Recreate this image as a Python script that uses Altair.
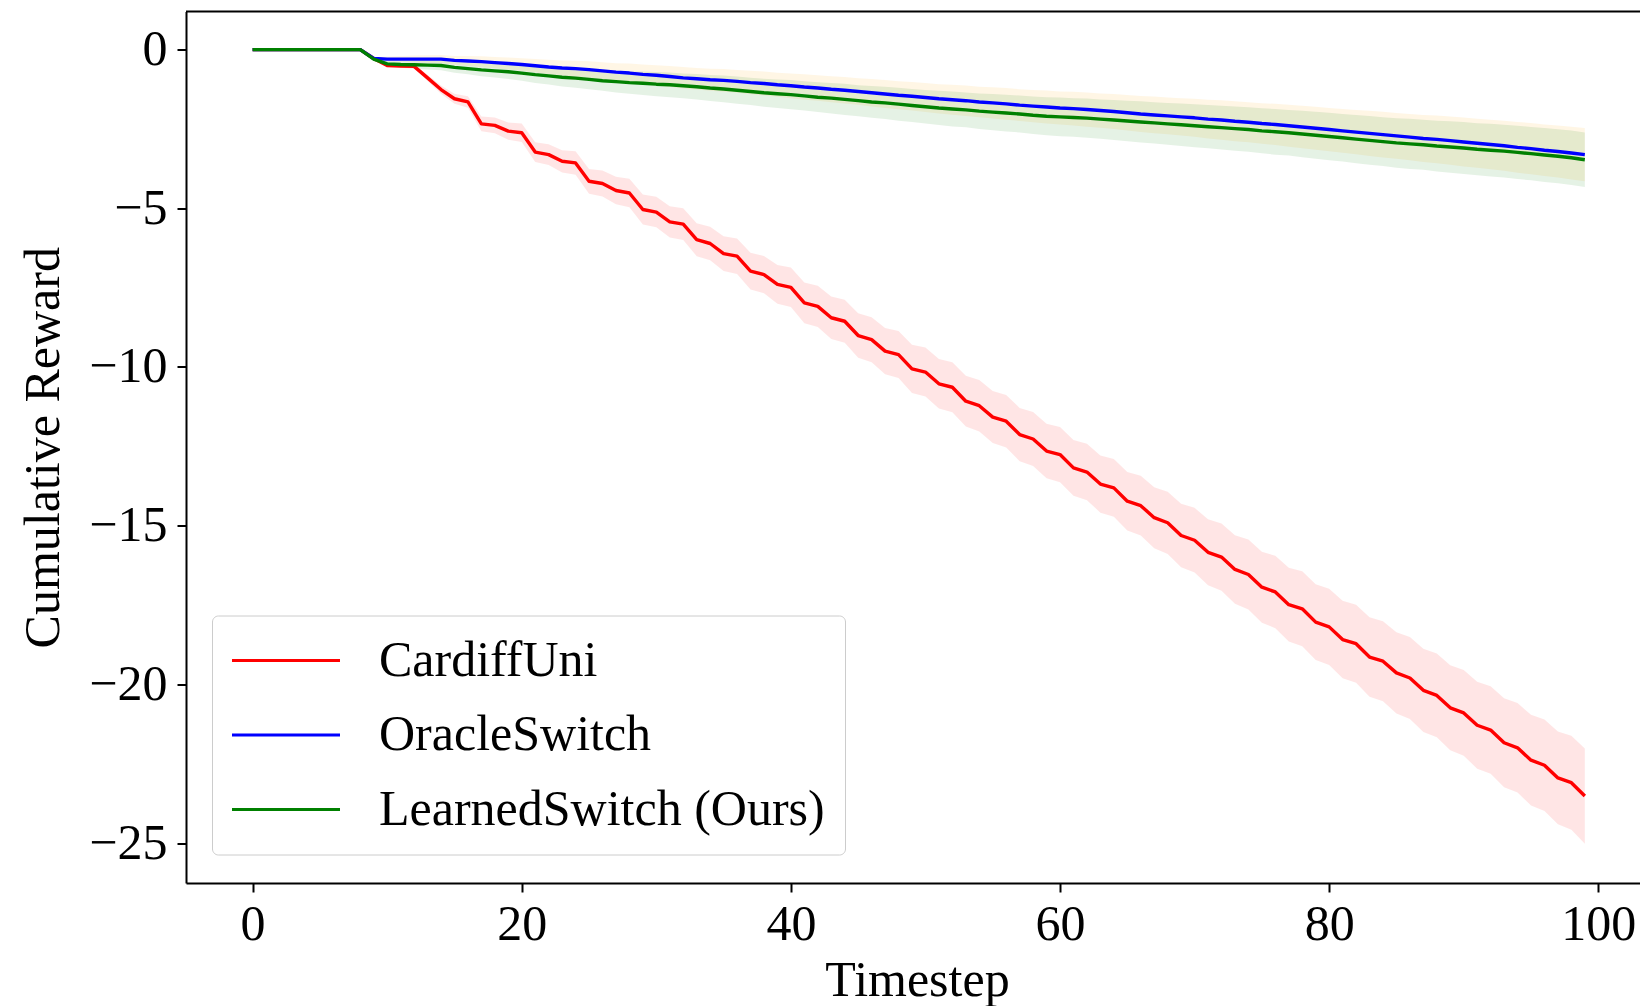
import altair as alt
import pandas as pd

steps = list(range(100))
series_names = ["CardiffUni", "OracleSwitch", "LearnedSwitch (Ours)"]

cardiff_mean = [
    0, 0, 0, 0, 0, 0, 0, 0, 0, -0.28,
    -0.50, -0.52, -0.53, -0.89, -1.26, -1.55, -1.65, -2.34, -2.39, -2.57,
    -2.62, -3.23, -3.31, -3.52, -3.57, -4.15, -4.22, -4.44, -4.52, -5.04,
    -5.12, -5.43, -5.50, -5.99, -6.11, -6.43, -6.51, -6.98, -7.09, -7.40,
    -7.49, -7.98, -8.09, -8.45, -8.56, -9.01, -9.14, -9.50, -9.61, -10.06,
    -10.16, -10.53, -10.64, -11.08, -11.22, -11.58, -11.71, -12.13, -12.27, -12.65,
    -12.76, -13.18, -13.31, -13.69, -13.81, -14.23, -14.37, -14.75, -14.91, -15.31,
    -15.46, -15.84, -15.99, -16.38, -16.54, -16.94, -17.09, -17.49, -17.62, -18.04,
    -18.19, -18.59, -18.72, -19.14, -19.27, -19.64, -19.80, -20.19, -20.35, -20.74,
    -20.90, -21.29, -21.44, -21.84, -22.00, -22.39, -22.55, -22.95, -23.10, -23.52,
]
cardiff_std = [
    0, 0, 0, 0, 0, 0, 0, 0, 0, 0.02,
    0.03, 0.04, 0.05, 0.10, 0.13, 0.16, 0.18, 0.23, 0.25, 0.27,
    0.29, 0.31, 0.33, 0.35, 0.37, 0.39, 0.41, 0.43, 0.45, 0.47,
    0.48, 0.49, 0.50, 0.52, 0.53, 0.55, 0.56, 0.58, 0.59, 0.61,
    0.62, 0.64, 0.65, 0.67, 0.68, 0.70, 0.71, 0.73, 0.74, 0.76,
    0.77, 0.78, 0.79, 0.80, 0.81, 0.82, 0.83, 0.84, 0.85, 0.86,
    0.87, 0.88, 0.89, 0.90, 0.91, 0.92, 0.94, 0.96, 0.98, 1.00,
    1.02, 1.04, 1.06, 1.08, 1.10, 1.12, 1.14, 1.16, 1.18, 1.19,
    1.20, 1.22, 1.23, 1.25, 1.26, 1.28, 1.29, 1.31, 1.32, 1.34,
    1.35, 1.37, 1.38, 1.40, 1.41, 1.43, 1.44, 1.46, 1.48, 1.50,
]
oracle_mean = [
    0, 0, 0, 0, 0, 0, 0, 0, 0, -0.28,
    -0.30, -0.30, -0.30, -0.30, -0.30, -0.34, -0.36, -0.38, -0.41, -0.44,
    -0.47, -0.51, -0.55, -0.58, -0.60, -0.63, -0.67, -0.71, -0.74, -0.78,
    -0.81, -0.85, -0.89, -0.92, -0.95, -0.97, -1.00, -1.04, -1.07, -1.11,
    -1.14, -1.18, -1.21, -1.25, -1.28, -1.32, -1.36, -1.40, -1.44, -1.47,
    -1.51, -1.55, -1.58, -1.61, -1.65, -1.68, -1.71, -1.75, -1.78, -1.81,
    -1.84, -1.86, -1.89, -1.92, -1.95, -1.99, -2.03, -2.06, -2.09, -2.12,
    -2.15, -2.19, -2.22, -2.26, -2.29, -2.33, -2.36, -2.40, -2.44, -2.48,
    -2.52, -2.56, -2.60, -2.64, -2.68, -2.72, -2.76, -2.80, -2.83, -2.87,
    -2.91, -2.95, -2.99, -3.03, -3.08, -3.12, -3.17, -3.21, -3.26, -3.31,
]
oracle_std = [
    0, 0, 0, 0, 0, 0, 0, 0, 0, 0.04,
    0.08, 0.10, 0.11, 0.12, 0.13, 0.14, 0.16, 0.17, 0.18, 0.19,
    0.20, 0.21, 0.23, 0.24, 0.25, 0.26, 0.27, 0.28, 0.30, 0.31,
    0.32, 0.33, 0.34, 0.34, 0.35, 0.36, 0.36, 0.37, 0.38, 0.38,
    0.39, 0.40, 0.40, 0.41, 0.42, 0.42, 0.43, 0.44, 0.44, 0.45,
    0.46, 0.46, 0.47, 0.48, 0.48, 0.49, 0.50, 0.50, 0.51, 0.52,
    0.52, 0.53, 0.54, 0.54, 0.55, 0.56, 0.57, 0.58, 0.58, 0.59,
    0.60, 0.61, 0.62, 0.63, 0.63, 0.64, 0.65, 0.66, 0.67, 0.68,
    0.68, 0.69, 0.70, 0.71, 0.72, 0.72, 0.73, 0.74, 0.75, 0.76,
    0.77, 0.77, 0.78, 0.79, 0.80, 0.81, 0.81, 0.82, 0.83, 0.84,
]
learned_mean = [
    0, 0, 0, 0, 0, 0, 0, 0, 0, -0.30,
    -0.45, -0.47, -0.48, -0.49, -0.50, -0.56, -0.60, -0.64, -0.67, -0.70,
    -0.74, -0.79, -0.83, -0.87, -0.90, -0.94, -0.98, -1.01, -1.04, -1.06,
    -1.09, -1.11, -1.14, -1.17, -1.21, -1.24, -1.28, -1.32, -1.36, -1.39,
    -1.42, -1.46, -1.50, -1.53, -1.57, -1.61, -1.65, -1.68, -1.72, -1.76,
    -1.80, -1.84, -1.87, -1.90, -1.94, -1.97, -2.00, -2.03, -2.07, -2.10,
    -2.12, -2.14, -2.16, -2.19, -2.22, -2.25, -2.28, -2.31, -2.34, -2.37,
    -2.40, -2.43, -2.46, -2.49, -2.52, -2.56, -2.59, -2.62, -2.66, -2.70,
    -2.74, -2.78, -2.82, -2.86, -2.90, -2.94, -2.97, -3.00, -3.04, -3.07,
    -3.10, -3.14, -3.17, -3.20, -3.24, -3.28, -3.32, -3.36, -3.41, -3.47,
]
learned_std = [
    0, 0, 0, 0, 0, 0, 0, 0, 0, 0.04,
    0.08, 0.10, 0.12, 0.14, 0.15, 0.17, 0.18, 0.20, 0.21, 0.23,
    0.24, 0.26, 0.27, 0.29, 0.30, 0.31, 0.32, 0.34, 0.35, 0.37,
    0.38, 0.39, 0.39, 0.40, 0.41, 0.42, 0.43, 0.43, 0.44, 0.45,
    0.46, 0.46, 0.47, 0.48, 0.49, 0.49, 0.50, 0.51, 0.52, 0.52,
    0.53, 0.54, 0.55, 0.55, 0.56, 0.57, 0.58, 0.58, 0.59, 0.60,
    0.61, 0.61, 0.62, 0.62, 0.63, 0.64, 0.65, 0.65, 0.66, 0.67,
    0.68, 0.68, 0.69, 0.70, 0.70, 0.71, 0.72, 0.72, 0.73, 0.74,
    0.75, 0.75, 0.76, 0.77, 0.77, 0.78, 0.79, 0.79, 0.80, 0.81,
    0.82, 0.82, 0.83, 0.83, 0.84, 0.84, 0.85, 0.85, 0.86, 0.86,
]

x_ticks = [0, 20, 40, 60, 80, 100]
y_ticks = [0, -5, -10, -15, -20, -25]
x_domain = [-4.95, 103.1]
y_domain = [-26.26, 1.2]
line_colors = ["#FF0000", "#0000FF", "#008000"]
# band colours in alphabetical order of the series names
band_colors_sorted = ["#FF0000", "#008000", "#FFA500"]

rows = []
for name, means, stds in zip(series_names,
                             [cardiff_mean, oracle_mean, learned_mean],
                             [cardiff_std, oracle_std, learned_std]):
    for t, m, s in zip(steps, means, stds):
        rows.append({"t": t, "series": name, "mean": m,
                     "lo": round(m - s, 4), "hi": round(m + s, 4)})
df = pd.DataFrame(rows)

FONT = "Liberation Serif"
W = 1454
H = 871.5

xs = alt.Scale(domain=x_domain, nice=False, zero=False)
ys = alt.Scale(domain=y_domain, nice=False, zero=False)

xaxis = alt.Axis(values=x_ticks, title="Timestep", labelFlush=False,
                 labelPadding=7, titleX=731, titleY=112,
                 titleBaseline="alphabetic", titleAlign="center",
                 titleAnchor="middle")
yaxis = alt.Axis(values=y_ticks, title="Cumulative Reward", labelFlush=False,
                 labelPadding=10, titleX=-128, titleY=H / 2,
                 titleBaseline="alphabetic", titleAlign="center",
                 titleAngle=270)

bands = alt.Chart(df).mark_area(fillOpacity=0.1, strokeWidth=0).encode(
    x=alt.X("t:Q", scale=xs, axis=xaxis),
    y=alt.Y("lo:Q", scale=ys, axis=yaxis),
    y2="hi:Q",
    fill=alt.Fill("series:N",
                  scale=alt.Scale(range=band_colors_sorted),
                  legend=None),
)

lines = alt.Chart(df).mark_line(strokeWidth=3.4, strokeJoin="round").encode(
    x=alt.X("t:Q", scale=xs, axis=xaxis),
    y=alt.Y("mean:Q", scale=ys, axis=yaxis),
    stroke=alt.Stroke(
        "series:N",
        scale=alt.Scale(domain=series_names, range=line_colors),
        legend=alt.Legend(
            title=None, orient="none", legendX=26, legendY=604,
            symbolType="M-5,0H5", symbolSize=466.6, symbolStrokeWidth=3,
            symbolOffset=29, labelOffset=68,
            labelFont=FONT, labelFontSize=50, labelColor="black",
            labelLimit=1000, rowPadding=24.5, padding=20,
            strokeColor="#CCCCCC", fillColor="rgba(255,255,255,0.8)",
            cornerRadius=6,
        ),
    ),
)

top_spine = alt.Chart(
    alt.Data(values=[{"x0": x_domain[0], "x1": x_domain[1], "y": y_domain[1]}])
).mark_rule(color="black", strokeWidth=2).encode(
    x=alt.X("x0:Q", scale=xs, axis=xaxis),
    x2="x1:Q",
    y=alt.Y("y:Q", scale=ys, axis=yaxis),
)

chart = alt.layer(bands, lines, top_spine).properties(
    width=W, height=H,
    padding={"left": 178, "top": 3.5, "right": 0, "bottom": 123},
    autosize=alt.AutoSizeParams(type="none"),
).configure_view(stroke=None).configure_axis(
    grid=False,
    domainColor="black", domainWidth=2,
    tickColor="black", tickWidth=2, tickSize=9,
    labelFont=FONT, labelFontSize=50, labelColor="black",
    titleFont=FONT, titleFontSize=50, titleFontWeight="normal",
    titleColor="black",
)

chart.save("out.html", embed_options={"renderer": "svg", "actions": False})
